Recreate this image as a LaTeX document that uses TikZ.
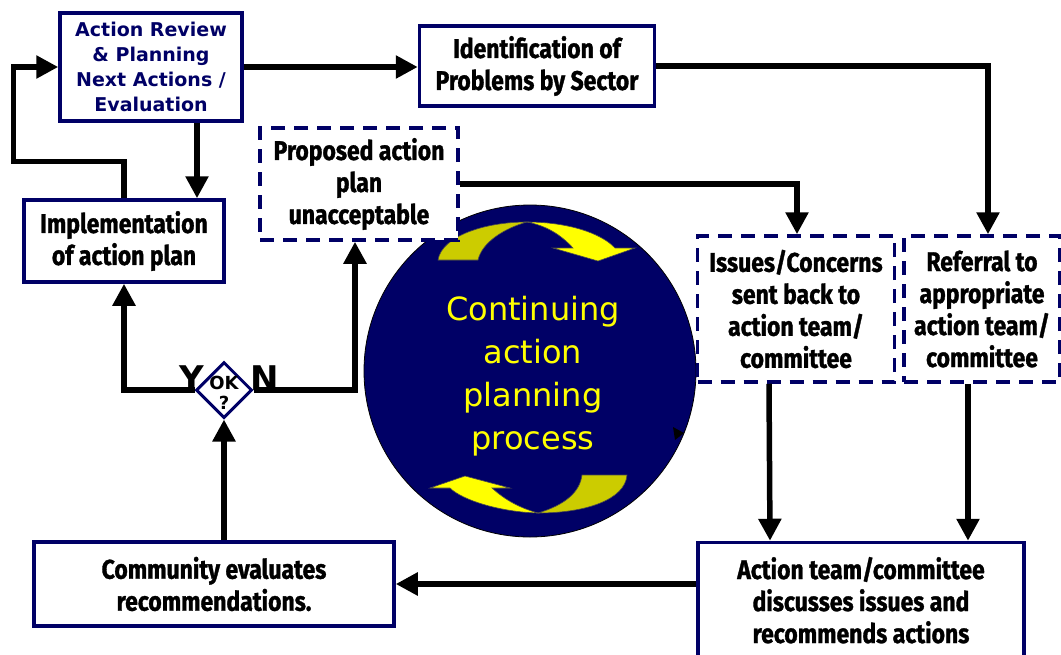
\documentclass[tikz,border=0pt]{standalone}
\usepackage{fontspec}
\setmainfont{DejaVu Sans}
\newfontfamily\heavy{Fira Sans}[FakeStretch=0.85,FakeBold=1.2]
\usetikzlibrary{arrows.meta,shapes.geometric,calc}
\definecolor{navy}{HTML}{000066}
\definecolor{olive}{HTML}{CCCC00}
\definecolor{lemon}{HTML}{FFFF00}
\begin{document}
\begin{tikzpicture}[x=1pt,y=-1pt,
  box/.style={draw=navy,line width=3.5pt,fill=white,align=center,inner sep=0pt},
  dbox/.style={box,dash pattern=on 14pt off 9pt},
  heavytext/.style={font=\heavy\bfseries\fontsize{27}{32}\selectfont},
  arr/.style={line width=5.5pt,-{Triangle[length=22pt,width=22pt]}},
  twist/.style={draw=black!70,line width=0.6pt}
]
\useasboundingbox (0,0) rectangle (1061,654);

% process circle with its two turning arrows
\node[circle,fill=navy,draw=black,line width=0.8pt,minimum size=332pt,inner sep=0pt] (proc) at (530,371) {};
\node[text=lemon,align=center,font=\fontsize{32}{43}\selectfont] (proctext) at (533,376)
  {Continuing\\action\\planning\\process};
\filldraw[fill=olive,twist] (438,260) .. controls (442,236) and (485,222) .. (527,222)
  .. controls (505,228) and (482,242) .. (478,260) -- cycle;
\filldraw[fill=lemon,twist] (527,222) .. controls (565,222) and (600,232) .. (615,248)
  -- (635,248) -- (598,261) -- (553,248) -- (573,248)
  .. controls (562,236) and (548,226) .. (527,222) -- cycle;
\filldraw[fill=olive,twist] (627,475) .. controls (625,500) and (585,513) .. (538,513)
  .. controls (565,505) and (580,492) .. (582,475) -- cycle;
\filldraw[fill=lemon,twist] (538,513) .. controls (500,512) and (462,500) .. (450,488)
  -- (430,488) -- (465,476) -- (510,488) -- (492,488)
  .. controls (505,500) and (520,508) .. (538,513) -- cycle;
\fill[black] (673,427) -- (684,433) -- (675,440) -- cycle;

% boxes
\node[box,minimum width=182pt,minimum height=108pt,text=navy,
  font=\bfseries\fontsize{19}{25}\selectfont] (rev) at (151,67)
  {Action Review\\\& Planning\\Next Actions /\\Evaluation};
\node[box,heavytext,minimum width=235pt,minimum height=80pt] (ident) at (537,66)
  {Identification of\\Problems by Sector};
\node[dbox,heavytext,minimum width=198pt,minimum height=112pt] (prop) at (359,184)
  {Proposed action\\plan\\unacceptable};
\node[box,heavytext,minimum width=200pt,minimum height=82pt] (impl) at (124,241)
  {Implementation\\of action plan};
\node[dbox,heavytext,minimum width=197pt,minimum height=146pt] (issues) at (796,309)
  {Issues/Concerns\\sent back to\\action team/\\committee};
\node[dbox,heavytext,minimum width=156pt,minimum height=146pt] (refer) at (982,309)
  {Referral to\\appropriate\\action team/\\committee};
\node[box,heavytext,minimum width=360pt,minimum height=84pt] (comm) at (214,584)
  {Community evaluates\\recommendations.};
\node[box,heavytext,minimum width=326pt,minimum height=115pt,text depth=0pt] (act) at (861,600)
  {Action team/committee\\discusses issues and\\recommends actions};

% decision diamond
\node[diamond,draw=navy,line width=3pt,fill=white,minimum width=56pt,minimum height=56pt,
  inner sep=0pt] (dia) at (224,390) {};
\node[align=center,inner sep=0pt,font=\bfseries\fontsize{18}{20}\selectfont] (ok) at (224,393) {OK\\?};
\node[anchor=base,inner sep=0pt,font=\bfseries\fontsize{34}{34}\selectfont] (ylab) at (192,390) {Y};
\node[anchor=base,inner sep=0pt,font=\bfseries\fontsize{34}{34}\selectfont] (nlab) at (265,390) {N};

% connectors
\draw[arr] (rev.east) -- (ident.west |- rev.east);
\draw[arr] ($(rev.south)+(46,0)$) -- ($(impl.north)+(73,0)$);
\draw[arr] (impl.north) -- ++(0,-37) -| ($(rev.west)+(-45,0)$) -- (rev.west);
\draw[arr] (ident.east) -| ($(refer.north)+(6,0)$);
\draw[arr] (prop.east) -| ($(issues.north)+(1,0)$);
\draw[arr] ($(issues.south)+(-27,0)$) -- ($(act.north)+(-91,0)$);
\draw[arr] ($(refer.south)+(-14,0)$) -- ($(act.north)+(107,0)$);
\draw[arr] (act.west |- comm.east) -- (comm.east);
\draw[arr] (comm.north -| dia.south) -- (dia.south);
\draw[arr] (dia.west) -| (impl.south);
\draw[arr] (dia.east) -| ($(prop.south)+(-4,0)$);
\end{tikzpicture}
\end{document}
